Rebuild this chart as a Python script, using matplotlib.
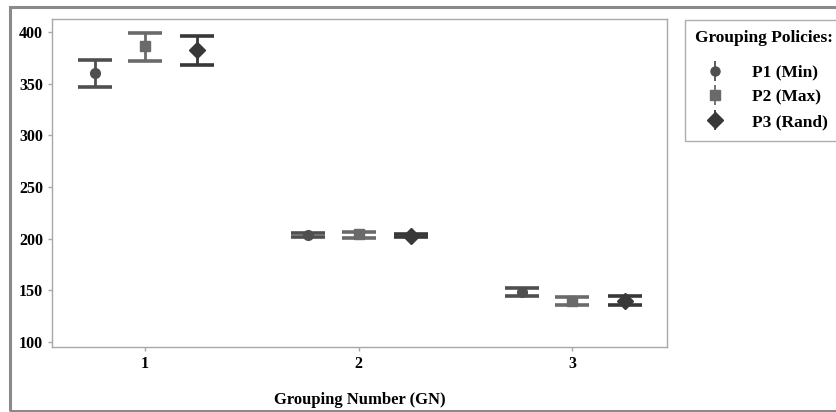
import numpy as np
import matplotlib
matplotlib.use("Agg")
import matplotlib.pyplot as plt
from matplotlib.lines import Line2D
from matplotlib.patches import Rectangle
from matplotlib.legend_handler import HandlerTuple

plt.rcParams['font.family'] = ['Liberation Serif', 'DejaVu Serif']

# data
groups = [1, 2, 3]
labels = ['P1 (Min)', 'P2 (Max)', 'P3 (Rand)']
p1_mean = [360, 203.5, 148]
p1_lo = [346.5, 202, 144.5]
p1_hi = [373, 205, 152]
p2_mean = [386, 204, 140]
p2_lo = [372, 201, 136]
p2_hi = [399, 206.5, 143.5]
p3_mean = [383, 203, 139.5]
p3_lo = [368.5, 201.5, 136]
p3_hi = [396, 204.5, 144]
yticks = [100, 150, 200, 250, 300, 350, 400]

offsets = [-0.235, 0.0, 0.245]
colors = ['#4f4f4f', '#6a6a6a', '#383838']
markers = ['o', 's', 'D']
msizes = [7, 7, 8.5]

fig = plt.figure(figsize=(8.36, 4.12), dpi=100)
ax = fig.add_axes([0.0622, 0.158, 0.736, 0.796])

series = [(p1_mean, p1_lo, p1_hi), (p2_mean, p2_lo, p2_hi), (p3_mean, p3_lo, p3_hi)]
for k, (m, lo, hi) in enumerate(series):
    m = np.array(m); lo = np.array(lo); hi = np.array(hi)
    x = np.array(groups) + offsets[k]
    ax.errorbar(x, m, yerr=[m - lo, hi - m], fmt=markers[k], color=colors[k],
                ms=msizes[k], elinewidth=2, capsize=12.5, capthick=2.6, zorder=3)

ax.set_xlim(0.564, 3.445)
ax.set_ylim(95.2, 412.6)
ax.set_xticks(groups)
ax.set_yticks(yticks)
for s in ax.spines.values():
    s.set_color('#a8a8a8')
    s.set_linewidth(1)
ax.tick_params(colors='#a8a8a8', length=3, width=1, labelcolor='black', labelsize=11.5)
for t in ax.get_xticklabels() + ax.get_yticklabels():
    t.set_fontweight('bold')
ax.set_xlabel('Grouping Number (GN)', fontsize=12, fontweight='bold')
ax.xaxis.set_label_coords(0.5, -0.138)

# legend
handles = []
for k in range(3):
    vline = Line2D([], [], marker='|', ms=15, mew=1.3, color=colors[k], ls='none')
    mk = Line2D([], [], marker=markers[k], ms=msizes[k] - 0.5, color=colors[k], ls='none')
    handles.append((vline, mk))
leg = fig.legend(handles, labels, loc='upper left', bbox_to_anchor=(685 / 836, 1 - 20 / 412),
                 borderaxespad=0, title='Grouping Policies:',
                 handler_map={tuple: HandlerTuple(ndivide=1)},
                 frameon=True, fancybox=False, edgecolor='#999999', borderpad=0.6,
                 handlelength=1.6, handletextpad=1.3, labelspacing=0.5,
                 prop={'weight': 'bold', 'size': 12.5})
leg.get_title().set_fontweight('bold')
leg.get_title().set_fontsize(12.5)
leg.get_frame().set_linewidth(1)
leg._legend_box.sep = 13  # extra room under the title

# outer frame
fig.patches.append(Rectangle((10 / 836, 0.002), 1.0, 1 - 7 / 412 - 0.002, transform=fig.transFigure,
                             fill=False, edgecolor='#8a8a8a', linewidth=2.2, zorder=0))

fig.savefig('out.png', dpi=100)
